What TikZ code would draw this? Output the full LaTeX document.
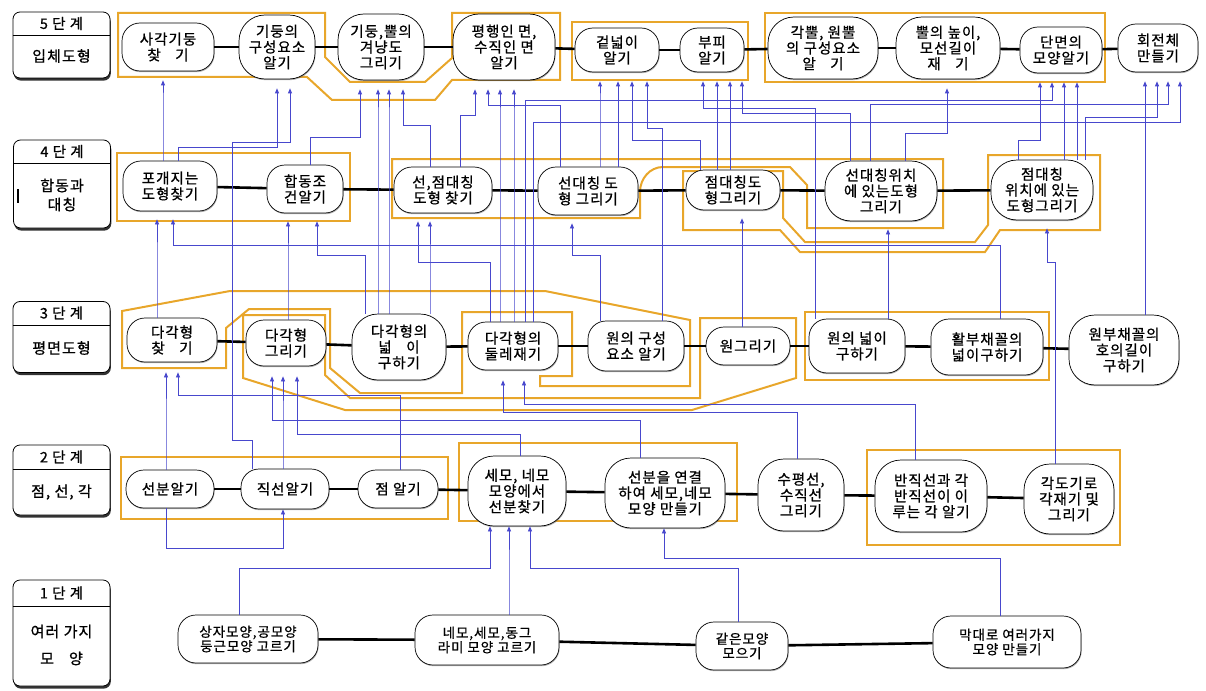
\documentclass[tikz,border=0pt]{standalone}
\usepackage{fontspec}
\setmainfont{Noto Sans CJK KR}
\newfontfamily\taskfont{Noto Sans CJK KR}[FakeBold=0.8, LetterSpace=7]
\usetikzlibrary{positioning, arrows.meta, shadows}

\definecolor{grpcol}{RGB}{232,166,42}
\definecolor{flowcol}{RGB}{72,72,205}

\tikzset{
  task/.style 2 args={draw, fill=white, rounded corners=18pt, line width=0.7pt,
    minimum width=#1pt, minimum height=#2pt, inner sep=1pt, align=center,
    font=\taskfont\fontsize{14.5}{15.8}\selectfont,
    drop shadow={shadow xshift=0.6pt, shadow yshift=-1.2pt, fill=black!60}},
  tall/.style={rounded corners=26pt},
  stage/.style={draw, fill=white, rounded corners=7pt, line width=0.8pt,
    minimum width=97pt,
    drop shadow={shadow xshift=0.8pt, shadow yshift=-2.6pt, fill=black, opacity=.8}},
  stage head/.style={font=\taskfont\fontsize{14.5}{16}\selectfont},
  stage body/.style={font=\taskfont\fontsize{15}{19}\selectfont, align=center},
  bond/.style={line width=2.6pt},
  grp/.style={draw=grpcol, line width=2pt, line join=miter},
  flow/.style={draw=flowcol, line width=0.7pt, -{Triangle[length=5pt,width=4pt]}},
}

% lower task -> upper task, through a horizontal channel
\newcommand{\feed}[6][]{\draw[flow,#1] (#2.north -| #3,0) -- (#3,#4) -- (#5,#4) -- (#6.south -| #5,0);}

\begin{document}
\begin{tikzpicture}[x=1pt, y=-1pt]
  \useasboundingbox (0,0) rectangle (1206,690);

  % groups
  \draw[grp] (118,13) -- (325,13) -- (325,57) -- (350,82) -- (425,82) -- (452,58)
    -- (452,13) -- (560,13) -- (560,80) -- (452,80) -- (435,100) -- (332,100)
    -- (307,77) -- (118,77) -- cycle;
  \draw[grp] (572,22) rectangle (748,80);
  \draw[grp] (765,13) rectangle (1105,82);

  \draw[grp] (117,153) rectangle (350,221);
  \draw[grp] (392,159) -- (943,159) -- (943,228) -- (807,228) -- (807,185)
    -- (790,167) -- (663,167) to[out=180,in=90] (640,192) -- (640,218)
    -- (392,218) -- cycle;
  \draw[grp] (683,171) -- (783,171) -- (783,218) -- (805,242) -- (975,242)
    -- (988,225) -- (988,155) -- (1100,155) -- (1100,230) -- (1000,230)
    -- (985,252) -- (800,252) -- (780,230) -- (683,230) -- cycle;

  \draw[grp] (122,311) -- (230,291) -- (545,291) -- (690,320) -- (690,386)
    -- (540,386) -- (540,376) -- (572,376) -- (572,312) -- (462,312)
    -- (462,393) -- (360,393) -- (330,368) -- (330,309) -- (249,309)
    -- (226,328) -- (226,368) -- (122,368) -- cycle;
  \draw[grp] (243,315) -- (243,378) -- (345,410) -- (692,410) -- (796,378)
    -- (796,318) -- (700,318) -- (700,398) -- (350,398) -- (325,375)
    -- (325,315) -- cycle;
  \draw[grp] (805,312) rectangle (1049,380);

  \draw[grp] (121,457) rectangle (448,519);
  \draw[grp] (459,443) rectangle (737,521);
  \draw[grp] (867,450) rectangle (1120,545);

  % stage boxes
  \node[stage, minimum height=66pt] (L5) at (61.5,45) {};
  \draw (L5.west |- 0,35) -- (L5.east |- 0,35);
  \node[stage head] (L5h) at (61.5,23.5) {5 단 계};
  \node[stage body] (L5b) at (61.5,56) {입체도형};

  \node[stage, minimum height=88pt] (L4) at (62,184) {};
  \draw (L4.west |- 0,163) -- (L4.east |- 0,163);
  \node[stage head] (L4h) at (62,151.5) {4 단 계};
  \node[stage body] (L4b) at (62,195) {합동과\\대칭};
  \draw[line width=1.8pt] (18,189) -- (18,203);

  \node[stage, minimum height=71pt] (L3) at (61.5,337) {};
  \draw (L3.west |- 0,325) -- (L3.east |- 0,325);
  \node[stage head] (L3h) at (61.5,313) {3 단 계};
  \node[stage body] (L3b) at (61.5,348) {평면도형};

  \node[stage, minimum height=70pt] (L2) at (61.5,480) {};
  \draw (L2.west |- 0,469) -- (L2.east |- 0,469);
  \node[stage head] (L2h) at (61.5,457) {2 단 계};
  \node[stage body] (L2b) at (61.5,492) {점, 선, 각};

  \node[stage, minimum height=106pt] (L1) at (61.5,633) {};
  \draw (L1.west |- 0,606) -- (L1.east |- 0,606);
  \node[stage head] (L1h) at (61.5,593) {1 단 계};
  \node[stage body, font=\taskfont\fontsize{15}{27}\selectfont] (L1b) at (61.5,645) {여러 가지\\모\quad 양};

  % 5 stage
  \node[task={92}{48}] (n51) at (168,47) {사각기둥\\찾\quad 기};
  \node[task={76}{64}, tall] (n52) at (277,47) {기둥의\\구성요소\\알기};
  \node[task={86}{66}, tall] (n53) at (381,47) {기둥,뿔의\\겨냥도\\그리기};
  \node[task={102}{66}, tall] (n54) at (504,47) {평행인 면,\\수직인 면\\알기};
  \node[task={84}{44}] (n55) at (617,50) {겉넓이\\알기};
  \node[task={64}{44}] (n56) at (712,50) {부피\\알기};
  \node[task={110}{62}, tall] (n57) at (823,48) {각뿔, 원뿔\\의 구성요소\\알\quad 기};
  \node[task={104}{62}, tall] (n58) at (948,48) {뿔의 높이,\\모선길이\\재\quad 기};
  \node[task={82}{46}] (n59) at (1061,50) {단면의\\모양알기};
  \node[task={80}{48}] (n510) at (1158,48) {회전체\\만들기};

  % 4 stage
  \node[task={94}{50}] (n41) at (170,186) {포개지는\\도형찾기};
  \node[task={76}{48}] (n42) at (305,189) {합동조\\건알기};
  \node[task={98}{46}] (n43) at (443,190) {선,점대칭\\도형 찾기};
  \node[task={100}{48}] (n44) at (588,191) {선대칭 도\\형 그리기};
  \node[task={94}{40}] (n45) at (733,190) {점대칭도\\형그리기};
  \node[task={112}{60}, tall] (n46) at (881,191) {선대칭위치\\에 있는도형\\그리기};
  \node[task={102}{60}, tall] (n47) at (1042,190) {점대칭\\위치에 있는\\도형그리기};

  % 3 stage
  \node[task={90}{44}] (n31) at (172,340) {다각형\\찾\quad 기};
  \node[task={80}{46}] (n32) at (286,343) {다각형\\그리기};
  \node[task={94}{66}, tall] (n33) at (399,347) {다각형의\\넓\quad 이\\구하기};
  \node[task={90}{48}] (n34) at (513,346) {다각형의\\둘레재기};
  \node[task={96}{50}] (n35) at (636,346) {원의 구성\\요소 알기};
  \node[task={84}{38}] (n36) at (748,346) {원그리기};
  \node[task={96}{54}] (n37) at (857,346) {원의 넓이\\구하기};
  \node[task={112}{56}] (n38) at (987,347) {활부채꼴의\\넓이구하기};
  \node[task={110}{70}, tall] (n39) at (1124,350) {원부채꼴의\\호의길이\\구하기};

  % 2 stage
  \node[task={88}{38}] (n21) at (170,489) {선분알기};
  \node[task={88}{40}] (n22) at (285,489) {직선알기};
  \node[task={80}{38}] (n23) at (398,489) {점 알기};
  \node[task={98}{70}, tall] (n24) at (517,491) {세모, 네모\\모양에서\\선분찾기};
  \node[task={120}{70}, tall] (n25) at (665,493) {선분을 연결\\하여 세모,네모\\모양 만들기};
  \node[task={86}{72}, tall] (n26) at (801,495) {수평선,\\수직선\\그리기};
  \node[task={112}{72}, tall] (n27) at (931,496) {반직선과 각\\반직선이 이\\루는 각 알기};
  \node[task={90}{70}, tall] (n28) at (1069,499) {각도기로\\각재기 및\\그리기};

  % 1 stage
  \node[task={140}{48}, font=\taskfont\fontsize{13.5}{14.5}\selectfont] (n11) at (248,639) {상자모양,공모양\\둥근모양 고르기};
  \node[task={144}{50}, font=\taskfont\fontsize{13.5}{14.5}\selectfont] (n12) at (487,640) {네모,세모,동그\\라미 모양 고르기};
  \node[task={92}{48}, font=\taskfont\fontsize{13.5}{14.5}\selectfont] (n13) at (742,646) {같은모양\\모으기};
  \node[task={148}{52}, font=\taskfont\fontsize{13.5}{14.5}\selectfont] (n14) at (1007,642) {막대로 여러가지\\모양 만들기};

  % chains
  \foreach \a/\b in {n51/n52, n52/n53, n53/n54, n54/n55, n55/n56, n56/n57,
      n57/n58, n58/n59, n59/n510, n41/n42, n42/n43, n43/n44, n44/n45,
      n45/n46, n46/n47, n31/n32, n32/n33, n33/n34, n34/n35, n35/n36,
      n36/n37, n37/n38, n38/n39, n21/n22, n22/n23, n23/n24, n24/n25,
      n25/n26, n26/n27, n27/n28, n11/n12, n12/n13, n13/n14}
    \draw[bond] (\a) -- (\b);

  % into 5 stage
  \begin{scope}[every path/.append style={shorten >=9pt}]
  \feed{n41}{163}{100}{163}{n51}
  \feed{n41}{178}{147}{277}{n52}
  \draw[flow] (n22.north -| 252,0) -- (252,440) -- (232,440) -- (232,142)
    -- (290,142) -- (n52.south -| 290,0);
  \feed{n42}{310}{137}{360}{n53}
  \feed{n33}{378}{120}{378}{n53}
  \feed{n33}{389}{120}{389}{n53}
  \feed{n43}{430}{125}{403}{n53}
  \feed{n43}{460}{115}{475}{n54}
  \feed{n44}{560}{105}{488}{n54}
  \feed{n34}{500}{120}{500}{n54}
  \feed{n34}{514}{120}{514}{n54}
  \feed{n34}{525}{100}{1052}{n59}
  \feed{n34}{533}{122}{1180}{n510}
  \feed{n44}{600}{100}{600}{n55}
  \feed{n44}{618}{100}{618}{n55}
  \feed{n45}{700}{140}{632}{n55}
  \feed{n35}{662}{128}{647}{n55}
  \feed{n37}{815}{108}{703}{n56}
  \feed{n45}{717}{100}{717}{n56}
  \feed{n45}{730}{100}{730}{n56}
  \feed{n46}{850}{113}{742}{n56}
  \feed{n46}{905}{133}{947}{n58}
  \feed{n47}{1018}{140}{1040}{n59}
  \feed{n47}{1064}{100}{1064}{n59}
  \feed{n47}{1077}{100}{1077}{n59}
  \feed{n39}{1145}{100}{1145}{n510}
  \feed{n47}{1085}{117}{1157}{n510}
  \feed{n46}{870}{104}{1168}{n510}
  \end{scope}

  % into 4 stage
  \begin{scope}[every path/.append style={shorten >=8pt}]
  \feed{n31}{157}{260}{157}{n41}
  \feed{n38}{1000}{245}{173}{n41}
  \feed{n32}{288}{260}{288}{n42}
  \feed{n33}{365}{255}{317}{n42}
  \feed{n34}{490}{262}{418}{n43}
  \feed{n33}{430}{262}{430}{n43}
  \feed{n35}{600}{255}{572}{n44}
  \feed{n36}{742}{260}{742}{n45}
  \feed{n37}{888}{260}{888}{n46}
  \feed{n28}{1055}{262}{1047}{n47}
  \end{scope}

  % into 3 stage
  \begin{scope}[every path/.append style={shorten >=10pt}]
  \feed{n21}{166}{420}{166}{n31}
  \feed{n23}{400}{395}{178}{n31}
  \feed{n25}{640}{420}{272}{n32}
  \feed{n22}{283}{420}{283}{n32}
  \feed{n24}{520}{434}{297}{n32}
  \feed{n26}{797}{412}{503}{n34}
  \feed{n27}{915}{404}{524}{n34}
  \end{scope}

  % into 2 stage
  \draw[flow] (n21.south -| 166,0) -- (166,548) -- (283,548) -- (n22.south -| 283,0);
  \feed{n11}{239}{568}{490}{n24}
  \feed{n12}{509}{568}{509}{n24}
  \feed{n13}{738}{568}{530}{n24}
  \feed{n14}{1000}{558}{664}{n25}
\end{tikzpicture}
\end{document}
